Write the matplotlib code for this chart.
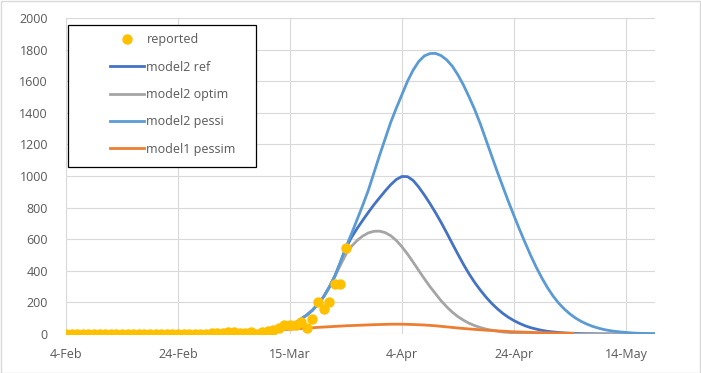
import matplotlib
matplotlib.use("Agg")
import matplotlib.pyplot as plt
from matplotlib.patches import Rectangle

plt.rcParams["font.family"] = ["Open Sans", "DejaVu Sans"]

# days counted from 4-Feb (2020)
TICK_DAYS = [0, 20, 40, 60, 80, 100]
TICK_LABELS = ["4-Feb", "24-Feb", "15-Mar", "4-Apr", "24-Apr", "14-May"]
Y_TICKS = [0, 200, 400, 600, 800, 1000, 1200, 1400, 1600, 1800, 2000]

rep_days = list(range(0, 51))
reported = [0, 0, 0, 0, 0, 0, 0, 0, 0, 0, 0, 0, 1, 0, 0, 0, 0, 1, 0, 0, 0, 1, 1,
            2, 3, 3, 5, 5, 8, 15, 12, 5, 8, 10, 3, 15, 20,
            25, 40, 57, 57, 60, 76, 38, 95, 203, 158, 203, 316, 316, 544]

# shared start of the model2 runs (days 20..48)
early_days = [20, 25, 30, 33, 35, 37, 38, 39, 40, 41, 42, 43, 44, 45, 46, 47, 48]
early_vals = [1, 2, 5, 9, 15, 24, 30, 39, 50, 70, 95, 120, 150, 190, 235, 295, 365]

ref_days = early_days + list(range(49, 91)) + [92, 95, 100, 105]
ref_vals = early_vals + [450, 545, 612, 668, 720, 770, 818, 862, 905, 945, 978, 997,
                         996, 972, 930, 880, 826, 768, 706, 640, 572, 505, 440, 380, 326,
                         278, 234, 195, 161, 131, 106, 85, 67, 52, 40, 31, 23, 17, 13,
                         9.5, 7, 5] + [3, 1, 0, 0]

optim_days = early_days + list(range(49, 81)) + [82, 84, 87, 90, 105]
optim_vals = early_vals + [435, 505, 555, 592, 620, 640, 650, 651, 642, 622, 592, 552,
                           506, 455, 402, 350, 300, 255, 210, 172, 138, 110, 87, 68, 53,
                           41, 31, 24, 18, 13, 10, 7] + [4, 2, 1, 0, 0]

pessi_days = early_days + list(range(49, 106))
pessi_vals = early_vals + [455, 550, 635, 725, 815, 910, 1020, 1130, 1235, 1340, 1430,
                           1515, 1600, 1670, 1725, 1760, 1775, 1776, 1762, 1735, 1695,
                           1640, 1575, 1500, 1420, 1330, 1230, 1130, 1030, 935, 840, 750,
                           662, 578, 497, 422, 354, 293, 240, 195, 158, 127, 101, 80, 63,
                           49, 38, 29, 22, 17, 13, 10, 7, 5, 4, 3, 2]

model1_days = [0, 10, 20, 25, 30, 35, 40, 45, 50, 55, 58, 60, 62, 64, 66, 68, 70, 72,
               75, 78, 80, 85, 90.5]
model1_vals = [0, 1, 3, 6, 10, 18, 30, 42, 52, 59, 62, 62, 60, 57, 52, 45, 38, 32,
               24, 18, 14, 8, 4]

W, H = 701, 373
fig = plt.figure(figsize=(W / 100, H / 100), dpi=100)
fig.patch.set_facecolor("white")
fig.add_artist(Rectangle((0.5 / W, 0.5 / H), 1 - 1.5 / W, 1 - 1.5 / H, transform=fig.transFigure,
                         fill=False, edgecolor="#D9D9D9", linewidth=1))

ax = fig.add_axes([66 / W, 39 / H, 589 / W, 316 / H])
ax.plot(ref_days, ref_vals, color="#4472C4", lw=2.0, label="model2 ref", zorder=3)
ax.plot(optim_days, optim_vals, color="#A5A5A5", lw=2.0, label="model2 optim", zorder=3)
ax.plot(pessi_days, pessi_vals, color="#5B9BD5", lw=2.0, label="model2 pessi", zorder=3)
ax.plot(model1_days, model1_vals, color="#ED7D31", lw=2.0, label="model1 pessim", zorder=3)
ax.plot(rep_days, reported, "o", color="#FFC000", ms=7.5, mew=0, label="reported", zorder=4)

ax.set_xlim(0, 105.2)
ax.set_ylim(0, 2000)
ax.set_xticks(TICK_DAYS)
ax.set_xticklabels(TICK_LABELS)
ax.set_yticks(Y_TICKS)
ax.grid(True, color="#D9D9D9", linewidth=0.8)
ax.set_axisbelow(True)
for s in ax.spines.values():
    s.set_visible(False)
ax.tick_params(length=0, labelsize=9, colors="#595959")
ax.tick_params(axis="y", pad=13)
ax.tick_params(axis="x", pad=10)

handles, labels = ax.get_legend_handles_labels()
order = [4, 0, 1, 2, 3]
leg = ax.legend([handles[i] for i in order], [labels[i] for i in order],
                loc="upper left", bbox_to_anchor=(104 / W, 1 - 27 / H),
                bbox_transform=fig.transFigure, frameon=False, fontsize=9,
                handlelength=2.7, handletextpad=0.2, labelspacing=1.15,
                borderpad=0, labelcolor="#595959")
fig.add_artist(Rectangle((68 / W, 1 - 167 / H), 188 / W, 142 / H, transform=fig.transFigure,
                         fill=True, facecolor="white", edgecolor="black", linewidth=0.9, zorder=5))
leg.set_zorder(6)
fig.add_artist(leg)

fig.savefig("out.png", dpi=100)
